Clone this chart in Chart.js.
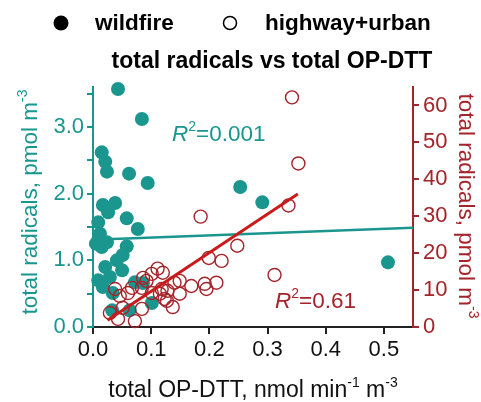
<!DOCTYPE html>
<html>
<head>
<meta charset="utf-8">
<script src="https://cdn.jsdelivr.net/npm/chart.js@4.4.1/dist/chart.umd.min.js"></script>
<style>
  html, body { margin: 0; padding: 0; background: #fff; }
  #wrap { width: 481px; height: 402px; }
</style>
</head>
<body>
<div id="wrap"><canvas id="chart" width="481" height="402"></canvas></div>
<script>
// wildfire: x = total OP-DTT, y = total radicals (left axis, pmol m-3)
const wildfireX = [0.043, 0.084, 0.015, 0.021, 0.024, 0.062, 0.094, 0.253, 0.291, 0.507,
  0.017, 0.038, 0.026, 0.058, 0.009, 0.077, 0.009, 0.024, 0.015, 0.058,
  0.051, 0.041, 0.021, 0.009, 0.029, 0.017, 0.034, 0.072, 0.086, 0.101,
  0.063, 0.033, 0.012, 0.005, 0.050];
const wildfireY = [3.57, 3.12, 2.62, 2.48, 2.33, 2.30, 2.16, 2.10, 1.87, 0.97,
  1.83, 1.86, 1.72, 1.63, 1.57, 1.47, 1.30, 1.27, 1.20, 1.21,
  1.08, 1.00, 0.90, 0.70, 0.75, 0.60, 0.51, 0.67, 0.66, 0.36,
  0.25, 0.25, 1.40, 1.25, 0.85];

// highway+urban: y on right axis
const urbanX = [0.342, 0.353, 0.336, 0.185, 0.312, 0.248, 0.199, 0.221, 0.120, 0.149,
  0.169, 0.192, 0.212, 0.195, 0.118, 0.128, 0.149, 0.123, 0.137, 0.038,
  0.060, 0.067, 0.084, 0.086, 0.101, 0.140, 0.101, 0.115, 0.127, 0.029,
  0.043, 0.072, 0.084, 0.051, 0.046, 0.111, 0.092];
const urbanY = [62.2, 44.3, 32.9, 29.9, 14.1, 22.0, 18.7, 17.9, 14.7, 12.5,
  11.1, 11.7, 12.0, 10.3, 10.3, 9.8, 9.0, 7.6, 5.4, 10.3,
  9.2, 10.6, 10.6, 13.3, 14.4, 12.0, 9.2, 9.0, 7.1, 3.8,
  2.2, 1.6, 4.9, 5.2, 8.4, 15.8, 12.5];

// regression lines (end points)
const wildfireFitX = [0, 0.55];
const wildfireFitY = [1.31, 1.49];
const urbanFitX = [0.025, 0.352];
const urbanFitY = [1.8, 36];

const wildfireR2 = "0.001";
const urbanR2 = "0.61";

const TEAL = "#1a968f";
const RED = "#a5232a";
const REDLINE = "#c81c1c";
const FONT = '"Liberation Sans", Arial, sans-serif';

function pts(xs, ys) {
  return xs.map((x, i) => ({ x: x, y: ys[i] }));
}

// draw a run of [text, sup] pieces starting at x (left), baseline y
function drawRich(ctx, pieces, x, y, size, color, align) {
  ctx.fillStyle = color;
  ctx.textBaseline = "alphabetic";
  ctx.textAlign = "left";
  let total = 0;
  pieces.forEach(p => {
    ctx.font = (p.italic ? "italic " : "") + (p.sup ? Math.round(size * 0.62) : size) + "px " + FONT;
    total += ctx.measureText(p.t).width;
  });
  let cx = align === "center" ? x - total / 2 : x;
  pieces.forEach(p => {
    ctx.font = (p.italic ? "italic " : "") + (p.sup ? Math.round(size * 0.62) : size) + "px " + FONT;
    ctx.fillText(p.t, cx, p.sup ? y - size * 0.45 : y);
    cx += ctx.measureText(p.t).width;
  });
}

const textPlugin = {
  id: "texts",
  afterDraw(chart) {
    const ctx = chart.ctx;
    ctx.save();

    // legend
    ctx.fillStyle = "#000";
    ctx.beginPath();
    ctx.arc(61, 23, 7.5, 0, Math.PI * 2);
    ctx.fill();
    ctx.strokeStyle = "#000";
    ctx.lineWidth = 1.5;
    ctx.beginPath();
    ctx.arc(230, 23, 6.5, 0, Math.PI * 2);
    ctx.stroke();
    ctx.font = "bold 22.5px " + FONT;
    ctx.textBaseline = "alphabetic";
    ctx.textAlign = "left";
    ctx.fillText("wildfire", 95, 30);
    ctx.fillText("highway+urban", 265, 30);

    // title
    ctx.font = "bold 23px " + FONT;
    ctx.textAlign = "center";
    ctx.fillText("total radicals vs total OP-DTT", 272, 68);

    // x axis title
    drawRich(ctx, [{ t: "total OP-DTT, nmol min" }, { t: "-1", sup: true }, { t: " m" }, { t: "-3", sup: true }],
      253, 397, 23, "#111", "center");

    // left axis title
    ctx.save();
    ctx.translate(37, 202);
    ctx.rotate(-Math.PI / 2);
    drawRich(ctx, [{ t: "total radicals, pmol m" }, { t: "-3", sup: true }], 0, 0, 22.5, TEAL, "center");
    ctx.restore();

    // right axis title
    ctx.save();
    ctx.translate(459, 206);
    ctx.rotate(Math.PI / 2);
    drawRich(ctx, [{ t: "total radicals, pmol m" }, { t: "-3", sup: true }], 0, 0, 22.5, RED, "center");
    ctx.restore();

    // R2 labels
    drawRich(ctx, [{ t: "R", italic: true }, { t: "2", sup: true }, { t: "=" + wildfireR2 }], 172, 141, 22.5, TEAL, "left");
    drawRich(ctx, [{ t: "R", italic: true }, { t: "2", sup: true }, { t: "=" + urbanR2 }], 275, 308, 22.5, RED, "left");

    ctx.restore();
  }
};

new Chart(document.getElementById("chart"), {
  data: {
    datasets: [
      {
        type: "line",
        label: "highway+urban fit",
        data: pts(urbanFitX, urbanFitY),
        yAxisID: "yR",
        borderColor: REDLINE,
        borderWidth: 3,
        pointRadius: 0,
        order: 1
      },
      {
        type: "scatter",
        label: "highway+urban",
        data: pts(urbanX, urbanY),
        yAxisID: "yR",
        backgroundColor: "rgba(0,0,0,0)",
        borderColor: RED,
        borderWidth: 1.4,
        pointRadius: 6.5,
        clip: false,
        order: 2
      },
      {
        type: "line",
        label: "wildfire fit",
        data: pts(wildfireFitX, wildfireFitY),
        yAxisID: "yL",
        borderColor: TEAL,
        borderWidth: 2.5,
        pointRadius: 0,
        order: 3
      },
      {
        type: "scatter",
        label: "wildfire",
        data: pts(wildfireX, wildfireY),
        yAxisID: "yL",
        backgroundColor: TEAL,
        borderColor: TEAL,
        borderWidth: 0,
        pointRadius: 7,
        clip: false,
        order: 4
      }
    ]
  },
  options: {
    responsive: false,
    animation: false,
    layout: { padding: { top: 87, left: 0, right: 0, bottom: 0 } },
    plugins: {
      legend: { display: false },
      title: { display: false },
      tooltip: { enabled: false }
    },
    scales: {
      x: {
        type: "linear",
        min: 0,
        max: 0.55,
        ticks: {
          stepSize: 0.1,
          includeBounds: false,
          color: "#111",
          font: { family: FONT, size: 22 },
          padding: 3,
          callback: v => v.toFixed(1)
        },
        grid: { drawOnChartArea: false, tickLength: 7, color: "#222", lineWidth: 2 },
        border: { color: "#222", width: 2 },
        afterFit: s => { s.height = 75; }
      },
      yL: {
        type: "linear",
        position: "left",
        min: 0,
        max: 3.6,
        ticks: {
          stepSize: 0.5,
          includeBounds: false,
          autoSkip: false,
          color: TEAL,
          font: { family: FONT, size: 22 },
          padding: 3,
          callback: v => Math.abs(v - Math.round(v)) < 1e-6 ? v.toFixed(1) : ""
        },
        grid: { drawOnChartArea: false, tickLength: 6, color: TEAL, lineWidth: 2 },
        border: { color: TEAL, width: 2 },
        afterFit: s => { s.width = 93; }
      },
      yR: {
        type: "linear",
        position: "right",
        min: 0,
        max: 65,
        ticks: {
          stepSize: 10,
          includeBounds: false,
          autoSkip: false,
          color: RED,
          font: { family: FONT, size: 22 },
          padding: 4,
          callback: v => String(v)
        },
        grid: { drawOnChartArea: false, tickLength: 6, color: RED, lineWidth: 2 },
        border: { color: RED, width: 2 },
        afterFit: s => { s.width = 68; }
      }
    }
  },
  plugins: [textPlugin]
});
</script>
</body>
</html>
